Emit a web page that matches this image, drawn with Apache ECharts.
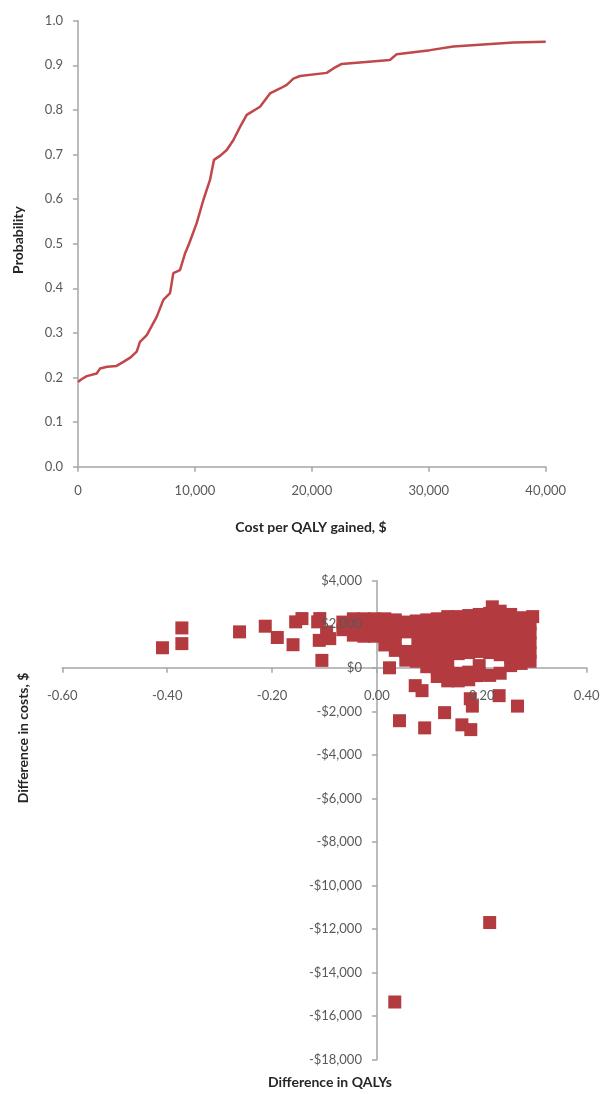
<!DOCTYPE html>
<html><head><meta charset="utf-8">
<script src="https://cdn.jsdelivr.net/npm/echarts@6/dist/echarts.min.js"></script>
<style>html,body{margin:0;padding:0;background:#fff}#c{width:603px;height:1094px}</style>
</head><body><div id="c"></div>
<script>
// Acceptability curve: cost per QALY gained ($) vs probability
const ceacCost = [0, 300, 744, 1600, 1880, 2500, 3300, 3880, 4500, 5020, 5300, 5880, 6300, 6730, 7300, 7870, 8150, 8720, 9150, 9500, 10150, 10720, 11290, 11630, 12200, 12720, 13280, 13860, 14430, 15570, 16420, 17280, 17850, 18420, 18990, 21270, 21840, 22550, 26680, 27260, 30110, 32100, 37230, 40000];
const ceacProb = [0.190, 0.196, 0.203, 0.209, 0.220, 0.224, 0.226, 0.235, 0.245, 0.258, 0.280, 0.295, 0.315, 0.336, 0.374, 0.389, 0.434, 0.441, 0.478, 0.500, 0.546, 0.598, 0.643, 0.688, 0.698, 0.710, 0.732, 0.762, 0.789, 0.807, 0.837, 0.848, 0.856, 0.870, 0.876, 0.883, 0.893, 0.903, 0.912, 0.925, 0.934, 0.942, 0.951, 0.953];

// Cost-effectiveness plane: [difference in QALYs, difference in costs $]
const planeOutliers = [
  [-0.409, 920], [-0.372, 1830], [-0.372, 1110], [-0.262, 1650], [-0.213, 1910], [-0.190, 1390],
  [-0.160, 1060], [-0.155, 2110], [-0.143, 2260], [-0.113, 2110], [-0.109, 2260], [-0.105, 340],
  [-0.110, 1260], [-0.096, 1650], [-0.090, 1340],
  [0.024, 0], [0.073, -820], [0.086, -1050], [0.043, -2430], [0.091, -2760], [0.129, -2060],
  [0.162, -2620], [0.179, -2840], [0.182, -1760], [0.178, -1420], [0.233, -1280], [0.268, -1760],
  [0.190, -360], [0.215, -11700], [0.034, -15350]
];
const planeCluster = [
  [-0.065, 1750], [-0.065, 2100],
  [-0.045, 1500], [-0.045, 1900], [-0.045, 2250],
  [-0.025, 1450], [-0.025, 1850], [-0.025, 2250],
  [-0.005, 1450], [-0.005, 1850], [-0.005, 2250],
  [0.015, 1050], [0.015, 1450], [0.015, 1850], [0.015, 2250],
  [0.035, 800], [0.035, 1200], [0.035, 1600], [0.035, 2000], [0.035, 2200],
  [0.055, 350], [0.055, 750], [0.055, 1650], [0.055, 2100],
  [0.075, 300], [0.075, 700], [0.078, 1150], [0.075, 1700], [0.075, 2150],
  [0.095, 50], [0.095, 450], [0.095, 900], [0.095, 1300], [0.095, 1700], [0.095, 2200],
  [0.115, -400], [0.115, 0], [0.115, 450], [0.115, 900], [0.115, 1350], [0.115, 1800], [0.115, 2250],
  [0.135, -600], [0.135, -200], [0.135, 250], [0.135, 700], [0.135, 1150], [0.135, 1600], [0.135, 2050], [0.135, 2350],
  [0.155, -600], [0.155, -250], [0.155, 650], [0.155, 1100], [0.155, 1550], [0.155, 2000], [0.155, 2350],
  [0.175, -550], [0.175, -200], [0.175, 700], [0.175, 1150], [0.175, 1600], [0.175, 2050], [0.175, 2400],
  [0.195, -300], [0.195, 100], [0.195, 750], [0.195, 1200], [0.195, 1650], [0.195, 2100], [0.195, 2450],
  [0.215, -350], [0.215, 700], [0.215, 1150], [0.215, 1600], [0.215, 2050], [0.215, 2500], [0.220, 2800],
  [0.235, -250], [0.235, 600], [0.235, 1000], [0.235, 1400], [0.235, 1850], [0.235, 2300], [0.235, 2600],
  [0.255, 100], [0.255, 500], [0.255, 900], [0.255, 1300], [0.255, 1700], [0.255, 2100], [0.255, 2450],
  [0.275, 200], [0.275, 600], [0.275, 1000], [0.275, 1450], [0.275, 1900], [0.275, 2300],
  [0.292, 300], [0.292, 700], [0.292, 1150], [0.292, 1600], [0.292, 2000], [0.297, 2350]
];

const FONT = 'Lato';
const LABEL_COLOR = '#595959';
const AXIS_COLOR = '#a6a6a6';
const fmtThousands = v => Math.round(v).toString().replace(/\B(?=(\d{3})+(?!\d))/g, ',');

// plane grid geometry and where its zero lines fall
const PL = { left: 62.3, top: 580.7, width: 524.4, height: 479 };
const Q_MIN = -0.6, Q_MAX = 0.4, C_MIN = -18000, C_MAX = 4000;
const zeroFromBottom = PL.height * (0 - C_MIN) / (C_MAX - C_MIN);
const zeroFromLeft = PL.width * (0 - Q_MIN) / (Q_MAX - Q_MIN);

const chart = echarts.init(document.getElementById('c'));
const lineAxis = extra => Object.assign({
  axisLine: { show: true, onZero: true, lineStyle: { color: AXIS_COLOR, width: 1.5 } },
  axisTick: { show: true, length: 5, lineStyle: { color: AXIS_COLOR, width: 1.5 } },
  splitLine: { show: false }
}, extra);
const labelStyle = { color: LABEL_COLOR, fontFamily: FONT, fontSize: 13 };
const labelOnlyAxis = extra => Object.assign({
  axisLine: { show: false, onZero: false },
  axisTick: { show: false }, splitLine: { show: false }, z: 10
}, extra);
const planeRect = Object.assign({ outerBoundsMode: 'none', containLabel: false }, PL);

chart.setOption({
  animation: false,
  backgroundColor: '#fff',
  grid: [
    { left: 78, top: 20.7, width: 467.7, height: 446, outerBoundsMode: 'none', containLabel: false },
    planeRect,
    Object.assign({}, planeRect)
  ],
  xAxis: [
    lineAxis({ type: 'value', gridIndex: 0, min: 0, max: 40000, interval: 10000,
      axisLabel: Object.assign({ margin: 18, formatter: v => fmtThousands(v) }, labelStyle) }),
    lineAxis({ type: 'value', gridIndex: 1, min: Q_MIN, max: Q_MAX, interval: 0.2, z: 1,
      axisLabel: { show: false } }),
    labelOnlyAxis({ type: 'value', gridIndex: 2, min: Q_MIN, max: Q_MAX, interval: 0.2,
      position: 'bottom', offset: -zeroFromBottom,
      axisLabel: Object.assign({ margin: 22, formatter: v => v.toFixed(2) }, labelStyle) })
  ],
  yAxis: [
    lineAxis({ type: 'value', gridIndex: 0, min: 0, max: 1, interval: 0.1,
      axisLabel: Object.assign({ margin: 15, formatter: v => v.toFixed(1) }, labelStyle) }),
    lineAxis({ type: 'value', gridIndex: 1, min: C_MIN, max: C_MAX, interval: 2000, z: 1,
      axisLabel: { show: false } }),
    labelOnlyAxis({ type: 'value', gridIndex: 2, min: C_MIN, max: C_MAX, interval: 2000,
      position: 'left', offset: -zeroFromLeft,
      axisLabel: Object.assign({ margin: 15, formatter: v => (v < 0 ? '-$' : '$') + fmtThousands(Math.abs(v)) }, labelStyle) })
  ],
  series: [
    { type: 'line', xAxisIndex: 0, yAxisIndex: 0, showSymbol: false, smooth: false,
      lineStyle: { color: '#c0474a', width: 2.5 },
      data: ceacCost.map((c, i) => [c, ceacProb[i]]) },
    { type: 'scatter', xAxisIndex: 1, yAxisIndex: 1, symbol: 'rect', symbolSize: 13, z: 5,
      itemStyle: { color: '#b33b3f', opacity: 1 },
      data: planeOutliers.concat(planeCluster) }
  ],
  graphic: [
    { type: 'text', x: 18, y: 240, rotation: Math.PI / 2,
      style: { text: 'Probability', fontFamily: FONT, fontWeight: 'bold', fontSize: 14, fill: '#262626', align: 'center', verticalAlign: 'middle' } },
    { type: 'text', x: 311, y: 527,
      style: { text: 'Cost per QALY gained, $', fontFamily: FONT, fontWeight: 'bold', fontSize: 14, fill: '#262626', align: 'center', verticalAlign: 'middle' } },
    { type: 'text', x: 23, y: 738, rotation: Math.PI / 2,
      style: { text: 'Difference in costs, $', fontFamily: FONT, fontWeight: 'bold', fontSize: 14, fill: '#262626', align: 'center', verticalAlign: 'middle' } },
    { type: 'text', x: 330, y: 1082,
      style: { text: 'Difference in QALYs', fontFamily: FONT, fontWeight: 'bold', fontSize: 14, fill: '#262626', align: 'center', verticalAlign: 'middle' } }
  ]
});
</script></body></html>
